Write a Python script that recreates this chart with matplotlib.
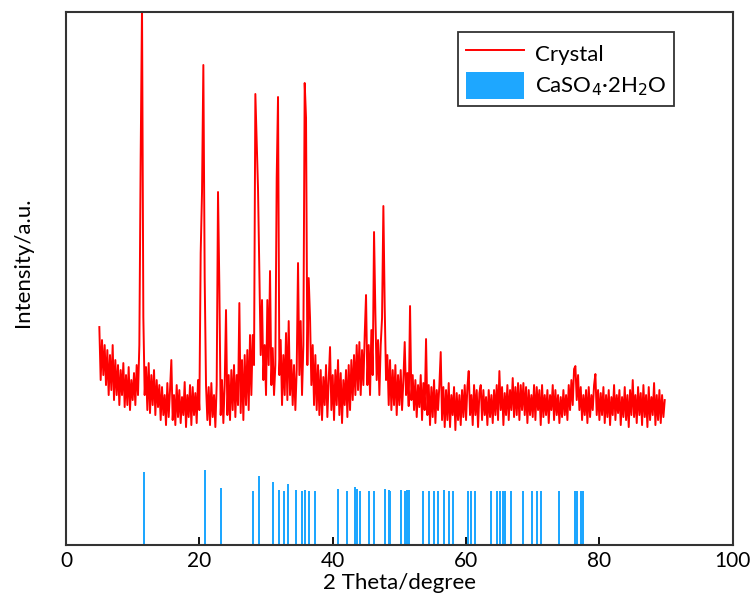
import matplotlib
matplotlib.use('Agg')
from matplotlib import pyplot as plt
import numpy as np

plt.rcParams['font.family'] = ['Lato', 'DejaVu Sans']

# measured pattern, 0.2 degree step from 5.0 (one row per degree)
crystal_start = 5.0
crystal_step = 0.2
crystal = [
    218, 165, 205, 170, 200,   # 5
    160, 195, 150, 190, 155,
    200, 145, 185, 150, 180,
    140, 175, 150, 182, 138,
    170, 140, 178, 135, 165,
    145, 172, 140, 180, 150,   # 10
    200, 388, 540, 228, 150,
    178, 135, 182, 132, 170,
    140, 175, 130, 165, 138,
    160, 125, 158, 130, 150,
    120, 162, 128, 155, 185,   # 15
    125, 150, 120, 160, 128,
    155, 122, 148, 130, 163,
    118, 150, 128, 160, 120,
    158, 130, 152, 122, 165,
    135, 292, 353, 480, 267,   # 20
    160, 125, 158, 120, 162,
    128, 150, 118, 160, 353,
    259, 130, 165, 122, 160,
    235, 130, 170, 125, 175,
    135, 180, 128, 170, 140,   # 25
    242, 132, 185, 125, 190,
    140, 195, 135, 210, 150,
    210, 180, 451, 402, 356,
    274, 190, 245, 165, 200,
    150, 245, 180, 274, 160,   # 30
    197, 150, 180, 367, 448,
    170, 205, 140, 190, 150,
    212, 145, 224, 150, 185,
    140, 180, 135, 175, 282,
    170, 224, 150, 200, 462,   # 35
    427, 180, 267, 227, 160,
    200, 140, 190, 135, 180,
    130, 175, 125, 168, 140,
    180, 128, 165, 198, 135,
    170, 125, 175, 140, 185,   # 40
    130, 172, 122, 165, 140,
    175, 128, 180, 135, 185,
    145, 190, 150, 200, 155,
    203, 150, 195, 160, 210,
    250, 160, 200, 150, 215,   # 45
    170, 313, 232, 165, 205,
    150, 200, 227, 339, 238,
    165, 190, 140, 185, 135,
    175, 140, 180, 130, 170,
    140, 175, 135, 165, 203,   # 50
    150, 172, 139, 239, 145,
    170, 135, 165, 128, 160,
    138, 170, 125, 162, 135,
    206, 130, 160, 120, 158,
    128, 165, 122, 155, 135,   # 55
    160, 193, 125, 158, 118,
    155, 125, 162, 118, 150,
    130, 158, 115, 152, 125,
    150, 120, 155, 128, 160,
    125, 158, 174, 130, 150,   # 60
    120, 160, 130, 155, 118,
    152, 160, 125, 155, 130,
    148, 120, 155, 128, 150,
    122, 155, 130, 160, 125,
    174, 135, 158, 120, 152,   # 65
    130, 160, 125, 155, 135,
    167, 128, 158, 130, 162,
    125, 160, 135, 162, 130,
    158, 122, 155, 130, 150,
    128, 160, 125, 158, 135,   # 70
    155, 120, 160, 128, 150,
    130, 155, 122, 150, 135,
    160, 125, 155, 130, 150,
    122, 148, 128, 155, 130,
    150, 125, 160, 135, 165,   # 75
    140, 176, 179, 145, 170,
    135, 158, 125, 150, 130,
    155, 122, 158, 128, 150,
    135, 160, 171, 130, 155,
    125, 152, 130, 158, 122,   # 80
    150, 128, 155, 120, 148,
    130, 160, 125, 150, 132,
    155, 120, 148, 128, 158,
    125, 150, 118, 155, 130,
    165, 128, 150, 122, 158,   # 85
    130, 152, 120, 160, 128,
    150, 118, 158, 125, 148,
    130, 162, 120, 150, 125,
    155, 122, 150, 128, 145,
]

# CaSO4.2H2O reference lines
ref_pos = [11.7, 20.8, 23.3, 28.1, 29.0, 31.1, 32.0, 32.7, 33.3, 34.5,
           35.4, 35.9, 36.5, 37.3, 40.8, 42.1, 43.4, 43.6, 44.1, 45.4,
           46.2, 47.8, 48.4, 48.6, 50.3, 50.8, 51.2, 51.4, 53.5, 54.4,
           55.2, 55.8, 56.7, 57.5, 58.1, 60.3, 60.8, 61.3, 63.7, 64.7,
           65.1, 65.5, 65.9, 66.7, 68.6, 69.9, 70.6, 71.2, 74.0, 76.4,
           76.6, 77.2, 77.5]
ref_int = [73, 75, 57, 54, 69, 63, 55, 54, 61, 55,
           54, 55, 54, 54, 56, 54, 58, 56, 54, 54,
           54, 56, 55, 54, 55, 54, 55, 55, 54, 54,
           54, 54, 55, 54, 54, 54, 54, 54, 54, 54,
           54, 54, 54, 54, 54, 54, 54, 54, 54, 54,
           54, 54, 54]

x = crystal_start + crystal_step * np.arange(len(crystal))

fig = plt.figure(figsize=(7.5, 5.99), dpi=100)
ax = fig.add_axes([0.088, 0.090, 0.889, 0.890])

ax.plot(x, crystal, color='#FF0000', lw=1.4, label='Crystal')
ax.bar(ref_pos, ref_int, width=0.3, color='#1EA7FF', label=r'CaSO$_4$·2H$_2$O')

ax.set_xlim(0, 100)
ax.set_ylim(0, 533)
ax.set_xticks([0, 20, 40, 60, 80, 100])
ax.set_yticks([])
ax.tick_params(axis='x', direction='in', length=6, width=1.3, labelsize=15, pad=4)
for s in ax.spines.values():
    s.set_linewidth(1.5)
    s.set_color('#333333')

ax.set_xlabel('2 Theta/degree', fontsize=16, labelpad=2)
ax.set_ylabel('Intensity/a.u.', fontsize=16)
ax.yaxis.set_label_coords(-0.05, 0.53)

leg = ax.legend(loc='upper left', bbox_to_anchor=(0.588, 0.962), borderaxespad=0,
                fontsize=16, fancybox=False, edgecolor='#333333', framealpha=1,
                handlelength=2.6, handleheight=1.5, handletextpad=0.5,
                labelspacing=0.2, borderpad=0.35)
leg.get_frame().set_linewidth(1.3)

plt.savefig('out.png', dpi=100)
